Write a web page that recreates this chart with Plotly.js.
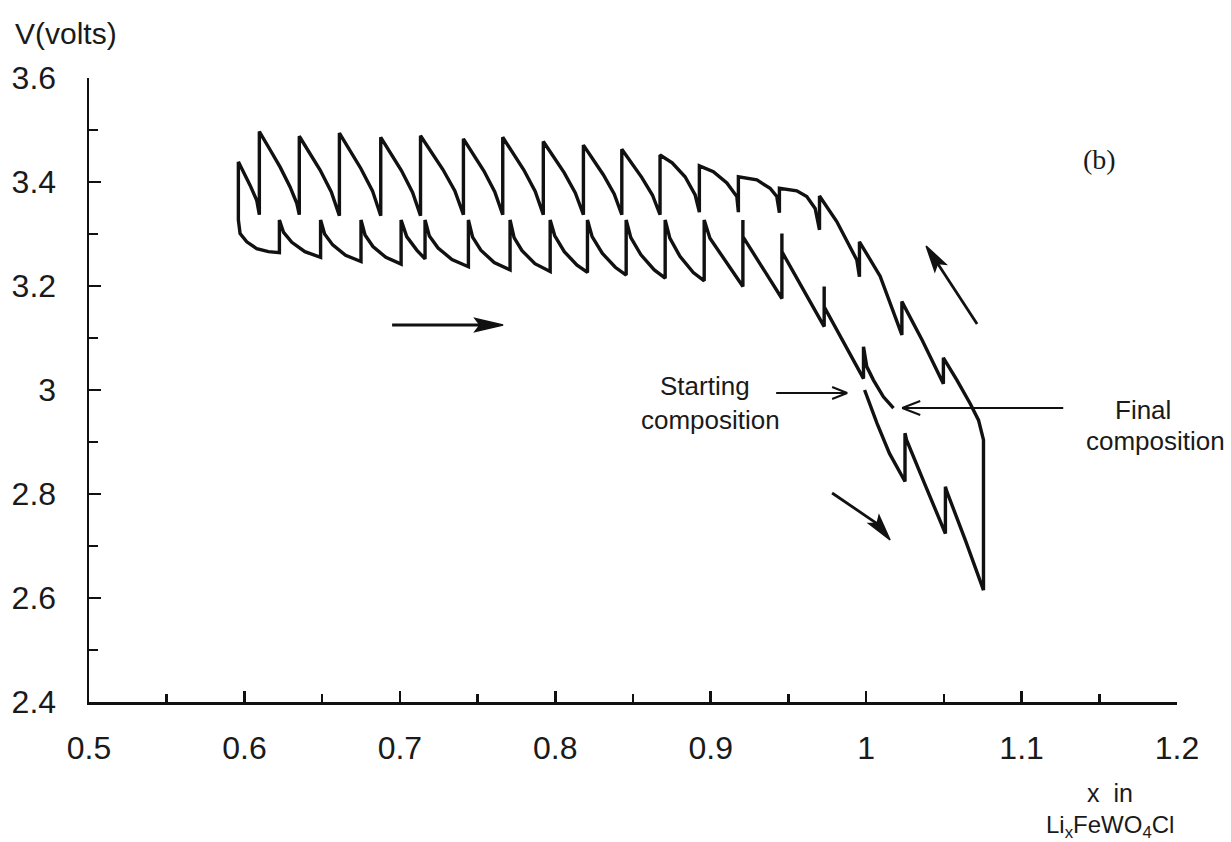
<!DOCTYPE html>
<html>
<head>
<meta charset="utf-8">
<script src="https://cdn.plot.ly/plotly-3.0.1.min.js"></script>
<style>
html,body{margin:0;padding:0;background:#fff;}
#chart{width:1231px;height:842px;}
</style>
</head>
<body>
<div id="chart"></div>
<script>
// Tick labels
const xTickVals = [0.5, 0.6, 0.7, 0.8, 0.9, 1.0, 1.1, 1.2];
const xTickText = ["0.5", "0.6", "0.7", "0.8", "0.9", "1", "1.1", "1.2"];
const yTickVals = [2.4, 2.6, 2.8, 3.0, 3.2, 3.4, 3.6];
const yTickText = ["2.4", "2.6", "2.8", "3", "3.2", "3.4", "3.6"];

// Series 1: first discharge from the starting composition (x increasing)
const firstDischargeX = [0.999, 1.007, 1.015, 1.025, 1.025, 1.026, 1.038, 1.051, 1.051, 1.052, 1.064, 1.0755];
const firstDischargeV = [3.000, 2.936, 2.878, 2.824, 2.917, 2.904, 2.817, 2.724, 2.814, 2.804, 2.710, 2.615];

// Series 2: charge (x decreasing), relaxation drops at each step
const chargeX = [1.0755, 1.0755, 1.0723, 1.0669, 1.0584,
  1.0497, 1.0497, 1.0360,
  1.0230, 1.0230, 1.0090,
  0.9957, 0.9957, 0.9940, 0.9811,
  0.9700, 0.9700, 0.9672, 0.9618, 0.9554,
  0.9442, 0.9442, 0.9425, 0.9382, 0.9297,
  0.9178, 0.9178, 0.9168, 0.9104, 0.9017,
  0.8927, 0.8927, 0.8900, 0.8835, 0.8752,
  0.8674, 0.8674, 0.8625, 0.8556, 0.8494,
  0.8428, 0.8428, 0.8379, 0.8309, 0.8248,
  0.8181, 0.8181, 0.8129, 0.8057, 0.7993,
  0.7923, 0.7923, 0.7871, 0.7798, 0.7733,
  0.7662, 0.7662, 0.7611, 0.7541, 0.7477,
  0.7409, 0.7409, 0.7354, 0.7277, 0.7208,
  0.7133, 0.7133, 0.7082, 0.7010, 0.6946,
  0.6877, 0.6877, 0.6824, 0.6749, 0.6683,
  0.6611, 0.6611, 0.6559, 0.6487, 0.6423,
  0.6353, 0.6353, 0.6337, 0.6293, 0.6229, 0.6165,
  0.6096, 0.6096, 0.6079, 0.6036, 0.5993,
  0.5961];
const chargeV = [2.615, 2.904, 2.942, 2.974, 3.019,
  3.062, 3.012, 3.096,
  3.170, 3.106, 3.219,
  3.285, 3.218, 3.250, 3.324,
  3.373, 3.308, 3.349, 3.372, 3.383,
  3.388, 3.341, 3.372, 3.388, 3.404,
  3.410, 3.342, 3.372, 3.398, 3.420,
  3.431, 3.342, 3.375, 3.410, 3.437,
  3.452, 3.337, 3.375, 3.409, 3.435,
  3.463, 3.337, 3.377, 3.414, 3.442,
  3.471, 3.337, 3.379, 3.418, 3.447,
  3.478, 3.337, 3.382, 3.423, 3.453,
  3.486, 3.337, 3.381, 3.421, 3.451,
  3.483, 3.337, 3.383, 3.424, 3.456,
  3.489, 3.335, 3.380, 3.422, 3.453,
  3.486, 3.335, 3.383, 3.426, 3.459,
  3.494, 3.335, 3.381, 3.423, 3.454,
  3.488, 3.337, 3.359, 3.391, 3.429, 3.462,
  3.497, 3.337, 3.365, 3.394, 3.420,
  3.439];

// Series 3: second discharge to the final composition (x increasing)
const secondDischargeX = [0.5961, 0.5961, 0.5972, 0.6015, 0.6079, 0.6154, 0.6225,
  0.6225, 0.6252, 0.6305, 0.6389, 0.6490,
  0.6490, 0.6516, 0.6568, 0.6651, 0.6750,
  0.6750, 0.6776, 0.6827, 0.6910, 0.7008,
  0.7008, 0.7044, 0.7109, 0.7162,
  0.7162, 0.7190, 0.7246, 0.7335, 0.7441,
  0.7441, 0.7468, 0.7521, 0.7607, 0.7709,
  0.7709, 0.7735, 0.7786, 0.7869, 0.7967,
  0.7967, 0.7996, 0.8058, 0.8140, 0.8207,
  0.8207, 0.8237, 0.8302, 0.8386, 0.8456,
  0.8456, 0.8486, 0.8551, 0.8637, 0.8707,
  0.8707, 0.8737, 0.8802, 0.8888, 0.8958,
  0.8958, 0.8995, 0.9083, 0.9207,
  0.9207, 0.9207, 0.9458,
  0.9458, 0.9458, 0.9730,
  0.9730, 0.9730, 0.9983,
  0.9983, 1.0004, 1.0047, 1.0111, 1.0176];
const secondDischargeV = [3.439, 3.327, 3.301, 3.285, 3.272, 3.266, 3.264,
  3.327, 3.303, 3.284, 3.266, 3.255,
  3.327, 3.300, 3.279, 3.259, 3.247,
  3.327, 3.298, 3.276, 3.255, 3.242,
  3.327, 3.295, 3.269, 3.252,
  3.327, 3.296, 3.273, 3.251, 3.237,
  3.327, 3.294, 3.269, 3.245, 3.231,
  3.327, 3.293, 3.268, 3.243, 3.228,
  3.327, 3.297, 3.266, 3.240, 3.226,
  3.327, 3.295, 3.263, 3.236, 3.221,
  3.327, 3.293, 3.260, 3.231, 3.215,
  3.327, 3.292, 3.257, 3.226, 3.210,
  3.327, 3.292, 3.253, 3.199,
  3.327, 3.295, 3.176,
  3.301, 3.266, 3.122,
  3.199, 3.160, 3.022,
  3.083, 3.045, 3.019, 2.987, 2.965];

const INK = '#111111';
const lineStyle = {color: INK, width: 3.4};

const traces = [
  {x: firstDischargeX, y: firstDischargeV, type: 'scatter', mode: 'lines', line: lineStyle, hoverinfo: 'skip', cliponaxis: false},
  {x: chargeX, y: chargeV, type: 'scatter', mode: 'lines', line: lineStyle, hoverinfo: 'skip', cliponaxis: false},
  {x: secondDischargeX, y: secondDischargeV, type: 'scatter', mode: 'lines', line: lineStyle, hoverinfo: 'skip', cliponaxis: false}
];

const SANS = '"Liberation Sans", Arial, Helvetica, sans-serif';
const SERIF = '"Liberation Serif", "Times New Roman", serif';

function txt(text, x, y, size, family, xanchor) {
  return {text: text, x: x, y: y, xref: 'paper', yref: 'paper', showarrow: false,
          xanchor: xanchor || 'center', yanchor: 'middle',
          font: {family: family || SANS, size: size, color: '#1a1a1a'}};
}

const annotations = [
  txt('V(volts)', -0.0699, 1.0721, 30, SANS, 'left'),
  txt('x  in', 0.9384, -0.1458, 25),
  txt('Li<sub>x</sub>FeWO<sub>4</sub>Cl', 0.9384, -0.2003, 24),
  txt('Starting', 0.5662, 0.5064, 26),
  txt('composition', 0.5708, 0.4519, 26),
  txt('Final', 0.9688, 0.4679, 26),
  txt('composition', 0.9798, 0.4183, 26),
  txt('(b)', 0.9292, 0.8686, 28, SERIF)
];

function seg(x0, y0, x1, y1, w) {
  return {type: 'line', xref: 'x', yref: 'y', x0: x0, y0: y0, x1: x1, y1: y1,
          line: {color: INK, width: w || 2.5}};
}
function head(path) {
  return {type: 'path', xref: 'x', yref: 'y', path: path, fillcolor: INK, line: {color: INK, width: 1.5}};
}

const shapes = [
  // horizontal arrow (discharge direction)
  seg(0.695, 3.125, 0.7516, 3.125, 2.8),
  head('M 0.7664 3.125 L 0.7484 3.1375 L 0.7516 3.125 L 0.7484 3.1125 Z'),
  // up-left arrow (charge direction)
  seg(1.0714, 3.1269, 1.0460, 3.2431, 2.8),
  head('M 1.0386 3.2769 L 1.0513 3.2418 L 1.0460 3.2431 L 1.0442 3.2282 Z'),
  // down-right arrow (first discharge)
  seg(0.9781, 2.8019, 1.0070, 2.7431, 2.8),
  head('M 1.0154 2.7115 L 1.0083 2.7584 L 1.0070 2.7431 L 1.0017 2.7432 Z'),
  // Starting composition arrow
  seg(0.9421, 2.9942, 0.9878, 2.9942, 2),
  seg(0.9878, 2.9942, 0.9781, 3.0058, 2),
  seg(0.9878, 2.9942, 0.9781, 2.9827, 2),
  // Final composition arrow
  seg(1.1268, 2.9654, 1.0232, 2.9654, 2),
  seg(1.0232, 2.9654, 1.0348, 2.9789, 2),
  seg(1.0232, 2.9654, 1.0348, 2.9519, 2)
];

const axisCommon = {
  tickmode: 'array', ticks: 'inside', tickwidth: 2.5, tickcolor: INK,
  showline: true, linecolor: INK, linewidth: 2.5, mirror: false,
  showgrid: false, zeroline: false, fixedrange: true,
  tickfont: {family: SANS, size: 32, color: '#1a1a1a'}
};

const layout = {
  width: 1231, height: 842,
  margin: {l: 89, r: 54, t: 78, b: 140, pad: 0},
  paper_bgcolor: '#ffffff', plot_bgcolor: '#ffffff',
  showlegend: false,
  font: {family: SANS, color: '#1a1a1a'},
  xaxis: Object.assign({}, axisCommon, {
    range: [0.5, 1.2], tickvals: xTickVals, ticktext: xTickText, ticklen: 11,
    ticklabelstandoff: 16,
    minor: {tick0: 0.5, dtick: 0.05, ticks: 'inside', ticklen: 8, tickwidth: 2.5, tickcolor: INK, showgrid: false}
  }),
  yaxis: Object.assign({}, axisCommon, {
    range: [2.4, 3.6], tickvals: yTickVals, ticktext: yTickText, ticklen: 12,
    ticklabelstandoff: 24,
    minor: {tick0: 2.4, dtick: 0.1, ticks: 'inside', ticklen: 9, tickwidth: 2.5, tickcolor: INK, showgrid: false}
  }),
  annotations: annotations,
  shapes: shapes
};

Plotly.newPlot('chart', traces, layout, {displayModeBar: false, staticPlot: true});
</script>
</body>
</html>
